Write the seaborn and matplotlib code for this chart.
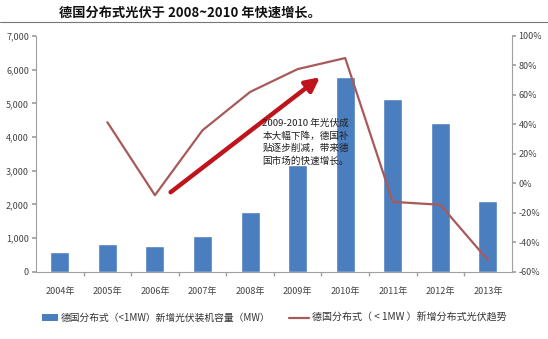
import matplotlib
matplotlib.use("Agg")
import matplotlib.pyplot as plt
import seaborn as sns
import pandas as pd
import numpy as np
from matplotlib.ticker import FuncFormatter, MultipleLocator
from matplotlib.patches import Patch
from matplotlib.lines import Line2D

years = ["2004年", "2005年", "2006年", "2007年", "2008年", "2009年",
         "2010年", "2011年", "2012年", "2013年"]
capacity_mw = [595, 830, 770, 1070, 1780, 3170, 5790, 5130, 4420, 2110]
trend_years = ["2005年", "2006年", "2007年", "2008年", "2009年",
               "2010年", "2011年", "2012年", "2013年"]
trend_pct = [41.5, -8, 36, 62, 77.5, 85, -12.5, -14.5, -52]

title = "德国分布式光伏于 2008~2010 年快速增长。"
note = "2009-2010 年光伏成\n本大幅下降，德国补\n贴逐步削减，带来德\n国市场的快速增长。"
bar_label = "德国分布式（<1MW）新增光伏装机容量（MW）"
line_label = "德国分布式（ < 1MW ）新增分布式光伏趋势"

sns.set_theme(style="white")
plt.rcParams["font.family"] = ["Noto Sans CJK SC", "DejaVu Sans"]
plt.rcParams["axes.unicode_minus"] = False

bar_color = "#4a7ebf"
line_color = "#a85a5a"
arrow_color = "#c0141c"
tick_color = "#444444"
spine_color = "#a0a0a0"

fig = plt.figure(figsize=(5.48, 3.39), dpi=100)
ax = fig.add_axes([0.0657, 0.198, 0.868, 0.696])

df = pd.DataFrame({"year": years, "cap": capacity_mw})
sns.barplot(data=df, x="year", y="cap", color=bar_color, saturation=1,
            width=0.4, ax=ax)
ax.set_ylim(0, 7000)
ax.set_xlim(-0.5, len(years) - 0.5)
ax.yaxis.set_major_locator(MultipleLocator(1000))
ax.yaxis.set_major_formatter(FuncFormatter(lambda v, p: f"{int(v):,}"))
ax.set_xlabel("")
ax.set_ylabel("")

ax2 = ax.twinx()
tdf = pd.DataFrame({"pos": [years.index(y) for y in trend_years], "pct": trend_pct})
sns.lineplot(data=tdf, x="pos", y="pct", color=line_color, linewidth=1.6, ax=ax2)
ax2.set_ylim(-60, 100)
ax2.yaxis.set_major_locator(MultipleLocator(20))
ax2.yaxis.set_major_formatter(FuncFormatter(lambda v, p: f"{int(round(v))}%"))
ax2.set_xlim(-0.5, len(years) - 0.5)
ax2.set_xlabel("")
ax2.set_ylabel("")

for a in (ax, ax2):
    a.spines["top"].set_visible(False)
    for s in ("left", "right", "bottom"):
        a.spines[s].set_color(spine_color)
        a.spines[s].set_linewidth(0.8)
ax.spines["right"].set_visible(False)
ax2.spines["left"].set_visible(False)
ax2.spines["bottom"].set_visible(False)

ax.tick_params(axis="y", left=True, length=3, color=spine_color,
               labelsize=6.5, labelcolor=tick_color, pad=2)
ax.tick_params(axis="x", bottom=False, labelsize=6.5, labelcolor=tick_color, pad=5)
ax.set_xticks(np.arange(len(years) - 1) + 0.5, minor=True)
ax.tick_params(axis="x", which="minor", bottom=True, length=3, color=spine_color)
ax2.tick_params(axis="y", right=True, length=3, color=spine_color,
                labelsize=6.5, labelcolor=tick_color, pad=2)

ax2.annotate("", xy=(years.index("2009年") + 0.47, 72),
             xytext=(years.index("2006年") + 0.33, -6),
             arrowprops=dict(arrowstyle="-|>,head_length=0.7,head_width=0.35",
                             color=arrow_color, lw=3.2, shrinkA=0, shrinkB=0))

ax2.text(years.index("2008年") + 0.26, 44, note, fontsize=6.9, color="#222222",
         va="top", ha="left", linespacing=1.45)

fig.text(0.347, 0.962, title, ha="center", va="center", fontsize=9.5,
         fontweight="bold", color="#111111")
fig.add_artist(Line2D([0.0, 1.0], [0.935, 0.935], color="#777777", lw=0.8))

leg1 = fig.legend([Patch(facecolor=bar_color, edgecolor="none")], [bar_label],
                  loc="center left", bbox_to_anchor=(0.076, 0.062), frameon=False,
                  fontsize=7, handlelength=1.7, handleheight=0.6, handletextpad=0.3,
                  labelcolor="#333333", borderaxespad=0, borderpad=0)
leg2 = fig.legend([Line2D([0], [0], color=line_color, lw=1.6)], [line_label],
                  loc="center left", bbox_to_anchor=(0.528, 0.062), frameon=False,
                  fontsize=7.2, handlelength=2.0, handletextpad=0.3,
                  labelcolor="#333333", borderaxespad=0, borderpad=0)

fig.savefig("out.png", dpi=100)
